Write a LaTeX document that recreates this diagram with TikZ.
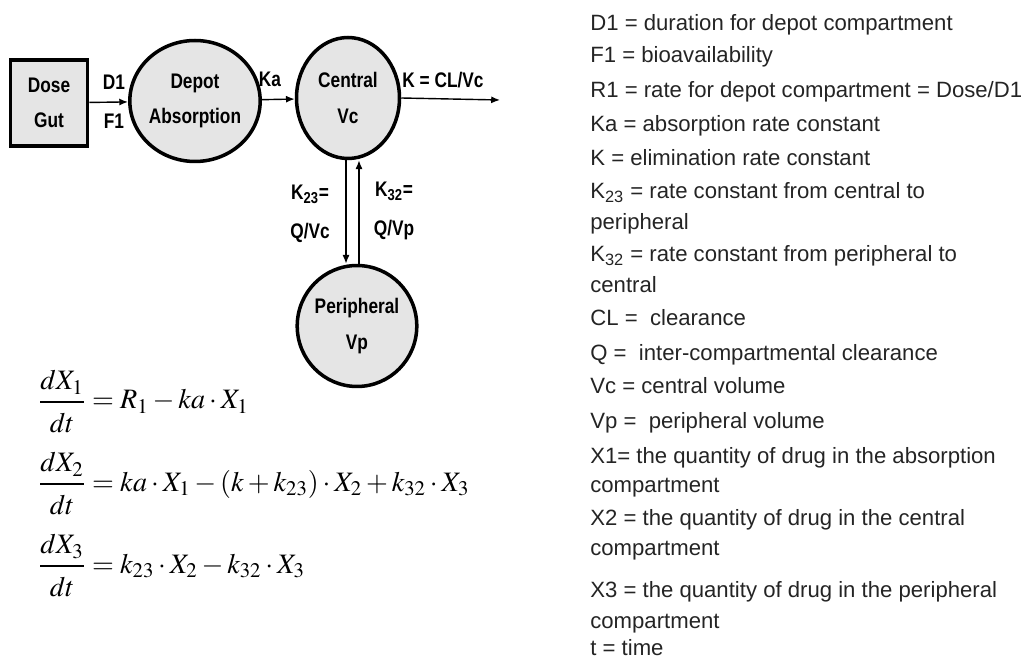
\documentclass[tikz,border=0pt]{standalone}
\usepackage{mathptmx}
\usepackage[no-math]{fontspec}
\setmainfont{Liberation Sans}
\newfontfamily\diagfont[FakeStretch=0.82]{Liberation Sans}
\usetikzlibrary{shapes.geometric,arrows.meta}
\definecolor{compfill}{gray}{0.9}
\definecolor{legendtext}{gray}{0.14}
\newcommand{\dtime}{\raisebox{-2.5pt}{$dt$}}
\tikzset{
  comp/.style={ellipse,draw,line width=2pt,fill=compfill,minimum width=2.06cm,minimum height=2.42cm,inner sep=0pt,align=center,font=\diagfont\bfseries\fontsize{12}{20}\selectfont},
  dosebox/.style={rectangle,draw,line width=2.2pt,fill=compfill,minimum width=1.54cm,minimum height=1.72cm,align=center,font=\diagfont\bfseries\fontsize{12}{20}\selectfont},
  flow/.style={-{Latex[length=5pt,width=4pt]},line width=0.8pt},
  rate/.style={inner sep=0pt,align=center,font=\diagfont\bfseries\fontsize{12}{22}\selectfont},
  legend/.style={anchor=base west,inner sep=0pt,text=legendtext,font=\fontsize{12.6}{15}\selectfont},
  eqn/.style={anchor=base west,inner sep=0pt,font=\fontsize{16}{19}\selectfont}
}
\begin{document}
\begin{tikzpicture}[x=0.02cm,y=-0.02cm]
    \useasboundingbox (0,0) rectangle (1031,658);
    % compartments
    \node [dosebox] (gut) at (49,103) {Dose\\Gut};
    \node [comp] (depot) at (195,101) {Depot\\Absorption};
    \node [comp] (central) at (348,98) {Central\\Vc};
    \node [comp] (peri) at (357,326) {Peripheral\\Vp};
    \coordinate (elim) at (500,100);
    \coordinate (down) at (346,0);
    \coordinate (up) at (359,0);
    % flows
    \draw [flow] (gut) -- (depot);
    \draw [flow] (depot) -- (central);
    \draw [flow] (central.east) -- (elim);
    \draw [flow] (down |- central.south) -- (down |- peri.north);
    \draw [flow] (up |- peri.north) -- (up |- central.south);
    \path (114,102) node [rate] (dfone) {D1\\F1};
    \path (270,79) node [rate] (ka) {Ka};
    \path (443,80) node [rate] (kel) {K = CL/Vc};
    \path (310,214) node [rate] (ktt) {K\textsubscript{23}=\\Q/Vc};
    \path (394,211) node [rate] (ktd) {K\textsubscript{32}=\\Q/Vp};
    % model equations
    \node [eqn] (eqone) at (38,409) {$\displaystyle \frac{dX_1}{\dtime}=R_1-ka\cdot X_1$};
    \node [eqn] (eqtwo) at (38,491) {$\displaystyle \frac{dX_2}{\dtime}=ka\cdot X_1-\left(k+k_{23}\right)\cdot X_2+k_{32}\cdot X_3$};
    \node [eqn] (eqthree) at (38,573) {$\displaystyle \frac{dX_3}{\dtime}=k_{23}\cdot X_2-k_{32}\cdot X_3$};
    % parameter list
    \foreach \yy/\txt [count=\i] in {
        31/{D1 = duration for depot compartment},
        63/{F1 = bioavailability},
        98/{R1 = rate for depot compartment = Dose/D1},
        132/{Ka = absorption rate constant},
        166/{K = elimination rate constant},
        199/{K\textsubscript{23} = rate constant from central to},
        230/{peripheral},
        262/{K\textsubscript{32} = rate constant from peripheral to},
        293/{central},
        326/{CL = \ clearance},
        361/{Q = \ inter-compartmental clearance},
        394/{Vc = central volume},
        428/{Vp = \ peripheral volume},
        463/{X1= the quantity of drug in the absorption},
        492/{compartment},
        525/{X2 = the quantity of drug in the central},
        555/{compartment},
        597/{X3 = the quantity of drug in the peripheral},
        628/{compartment},
        655/{t = time}}
        \node [legend] (leg\i) at (590,\yy) {\txt};
\end{tikzpicture}
\end{document}
